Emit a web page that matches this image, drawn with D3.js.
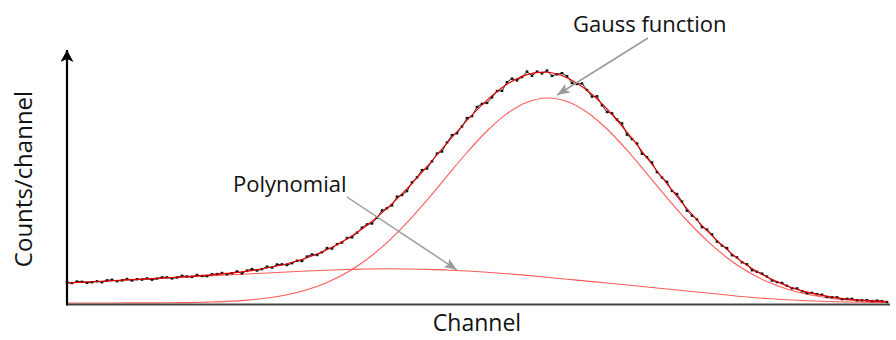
<!DOCTYPE html>
<html>
<head>
<meta charset="utf-8">
<script src="https://cdn.jsdelivr.net/npm/d3@7"></script>
<style>
  body { margin: 0; background: #fff; }
  text { font-family: "Open Sans", sans-serif; fill: #111; }
</style>
</head>
<body>
<div id="chart"></div>
<script>
// fit components, sampled every 20 channels (0..820)
let fitStep = 20
let gaussFit = [0, 0, 0, 0.1, 0.1, 0.2, 0.4, 0.9, 1.6, 2.9, 5.0, 8.3, 13.3, 20.5, 30.5, 43.8,
  60.4, 80.3, 102.8, 126.8, 150.5, 172.0, 189.4, 200.8, 205.0, 201.5, 190.8, 174.0, 152.8,
  129.2, 105.2, 82.5, 62.3, 45.3, 31.7, 21.4, 13.9, 8.7, 5.2, 3.0, 1.7, 0.9]
let polyFit = [20.0, 21.0, 22.0, 23.0, 24.0, 25.0, 26.0, 27.0, 28.0, 29.0, 30.0, 31.0, 32.0,
  32.8, 33.5, 34.0, 34.2, 34.0, 33.6, 33.0, 32.0, 30.8, 29.3, 27.6, 25.7, 23.8, 21.9, 20.0,
  18.0, 16.0, 14.0, 12.0, 10.0, 8.0, 6.0, 4.5, 3.2, 2.2, 1.5, 1.0, 0.7, 0.5]

// measured spectrum, one value every 5 channels
let dataStep = 5
let counts = [
  20.8, 20.0, 21.5, 21.2, 20.1, 20.8, 21.7, 20.8, 22.7, 23.2,
  21.9, 22.6, 24.0, 22.5, 23.8, 23.4, 24.6, 23.3, 24.4, 25.6,
  25.7, 24.6, 25.5, 27.2, 26.5, 26.1, 28.0, 27.0, 26.9, 28.7,
  28.9, 30.0, 28.8, 29.8, 31.6, 29.6, 32.4, 33.9, 32.5, 33.9,
  36.3, 35.4, 38.5, 38.7, 37.9, 39.8, 42.3, 42.0, 46.4, 48.5,
  48.0, 50.8, 54.9, 54.4, 58.8, 60.5, 65.0, 65.6, 70.3, 75.3,
  78.6, 79.5, 85.1, 92.5, 94.8, 97.6, 106.3, 107.9, 111.9, 120.6,
  125.6, 132.9, 134.5, 141.7, 149.4, 151.5, 160.5, 167.9, 169.8, 176.6,
  184.9, 186.9, 196.0, 199.2, 200.1, 205.7, 212.0, 212.2, 220.8, 224.4,
  222.6, 226.0, 231.4, 227.3, 231.4, 229.6, 232.5, 227.1, 228.7, 229.8,
  226.8, 220.1, 219.0, 219.5, 213.0, 206.4, 206.7, 197.7, 191.0, 189.7,
  183.4, 179.6, 168.4, 163.9, 159.5, 149.3, 145.9, 140.5, 130.9, 125.4,
  121.1, 112.1, 109.0, 101.4, 92.3, 87.4, 83.5, 75.9, 73.4, 68.6,
  61.4, 57.4, 54.9, 47.8, 45.6, 40.7, 38.7, 32.8, 31.2, 29.4,
  26.4, 22.5, 20.9, 20.0, 17.2, 14.7, 14.6, 11.8, 9.9, 10.1,
  8.8, 8.3, 6.1, 5.8, 5.7, 3.9, 4.2, 4.1, 2.8, 2.7,
  2.8, 1.9, 2.4, 1.8, 1.0]

let width = 896
let height = 340

let svg = d3.select('#chart').append('svg')
  .attr('width', width)
  .attr('height', height)

let x = d3.scaleLinear().domain([0, 820]).range([67, 887])
let y = d3.scaleLinear().domain([0, 250]).range([303, 53])

let defs = svg.append('defs')
defs.append('marker')
  .attr('id', 'grayHead')
  .attr('markerUnits', 'userSpaceOnUse')
  .attr('markerWidth', 14).attr('markerHeight', 10)
  .attr('refX', 13).attr('refY', 5)
  .attr('orient', 'auto')
  .append('path')
  .attr('d', 'M0,0 L13,5 L0,10 L3,5 Z')
  .attr('fill', '#9a9a9a')
defs.append('marker')
  .attr('id', 'axisHead')
  .attr('markerUnits', 'userSpaceOnUse')
  .attr('markerWidth', 13).attr('markerHeight', 13)
  .attr('refX', 12).attr('refY', 6.5)
  .attr('orient', 'auto')
  .append('path')
  .attr('d', 'M0,0 L12,6.5 L0,13 L3,6.5 Z')
  .attr('fill', '#000')

let line = d3.line()
  .x((d, i) => x(i * fitStep))
  .y(d => y(d))
  .curve(d3.curveCatmullRom)

// components
svg.append('path')
  .attr('d', line(gaussFit))
  .attr('fill', 'none')
  .attr('stroke', '#ff5a5a')
  .attr('stroke-width', 1.1)
svg.append('path')
  .attr('d', line(polyFit))
  .attr('fill', 'none')
  .attr('stroke', '#ff5a5a')
  .attr('stroke-width', 1.1)

// measured points
svg.append('path')
  .attr('d', d3.line().x((d, i) => x(i * dataStep)).y(d => y(d))(counts))
  .attr('fill', 'none')
  .attr('stroke', '#222')
  .attr('stroke-width', 1)
svg.selectAll('rect.pt')
  .data(counts)
  .enter()
  .append('rect')
  .attr('class', 'pt')
  .attr('x', (d, i) => x(i * dataStep) - 1.3)
  .attr('y', d => y(d) - 1.2)
  .attr('width', 2.6)
  .attr('height', 2.4)
  .attr('fill', '#111')

// total fit = gauss + polynomial
let totalFit = gaussFit.map((g, i) => g + polyFit[i])
svg.append('path')
  .attr('d', line(totalFit))
  .attr('fill', 'none')
  .attr('stroke', '#e80000')
  .attr('stroke-width', 1.1)

// axes
svg.append('line')
  .attr('x1', x.range()[0]).attr('x2', 890)
  .attr('y1', 304.5).attr('y2', 304.5)
  .attr('stroke', '#444')
  .attr('stroke-width', 2)
svg.append('line')
  .attr('x1', x.range()[0]).attr('x2', x.range()[0])
  .attr('y1', 305.5).attr('y2', 50)
  .attr('stroke', '#000')
  .attr('stroke-width', 2.2)
  .attr('marker-end', 'url(#axisHead)')

svg.append('text')
  .attr('x', 477).attr('y', 331)
  .attr('text-anchor', 'middle')
  .attr('font-size', 23)
  .text('Channel')
svg.append('text')
  .attr('transform', 'translate(32,179) rotate(-90)')
  .attr('text-anchor', 'middle')
  .attr('font-size', 24)
  .text('Counts/channel')

// annotations
svg.append('line')
  .attr('x1', 648).attr('y1', 38)
  .attr('x2', x(490)).attr('y2', y(208))
  .attr('stroke', '#9a9a9a')
  .attr('stroke-width', 1.5)
  .attr('marker-end', 'url(#grayHead)')
svg.append('text')
  .attr('x', 573).attr('y', 32)
  .attr('font-size', 22)
  .text('Gauss function')

svg.append('line')
  .attr('x1', 347).attr('y1', 197)
  .attr('x2', x(390)).attr('y2', y(33))
  .attr('stroke', '#9a9a9a')
  .attr('stroke-width', 1.5)
  .attr('marker-end', 'url(#grayHead)')
svg.append('text')
  .attr('x', 233).attr('y', 192)
  .attr('font-size', 22)
  .text('Polynomial')
</script>
</body>
</html>
